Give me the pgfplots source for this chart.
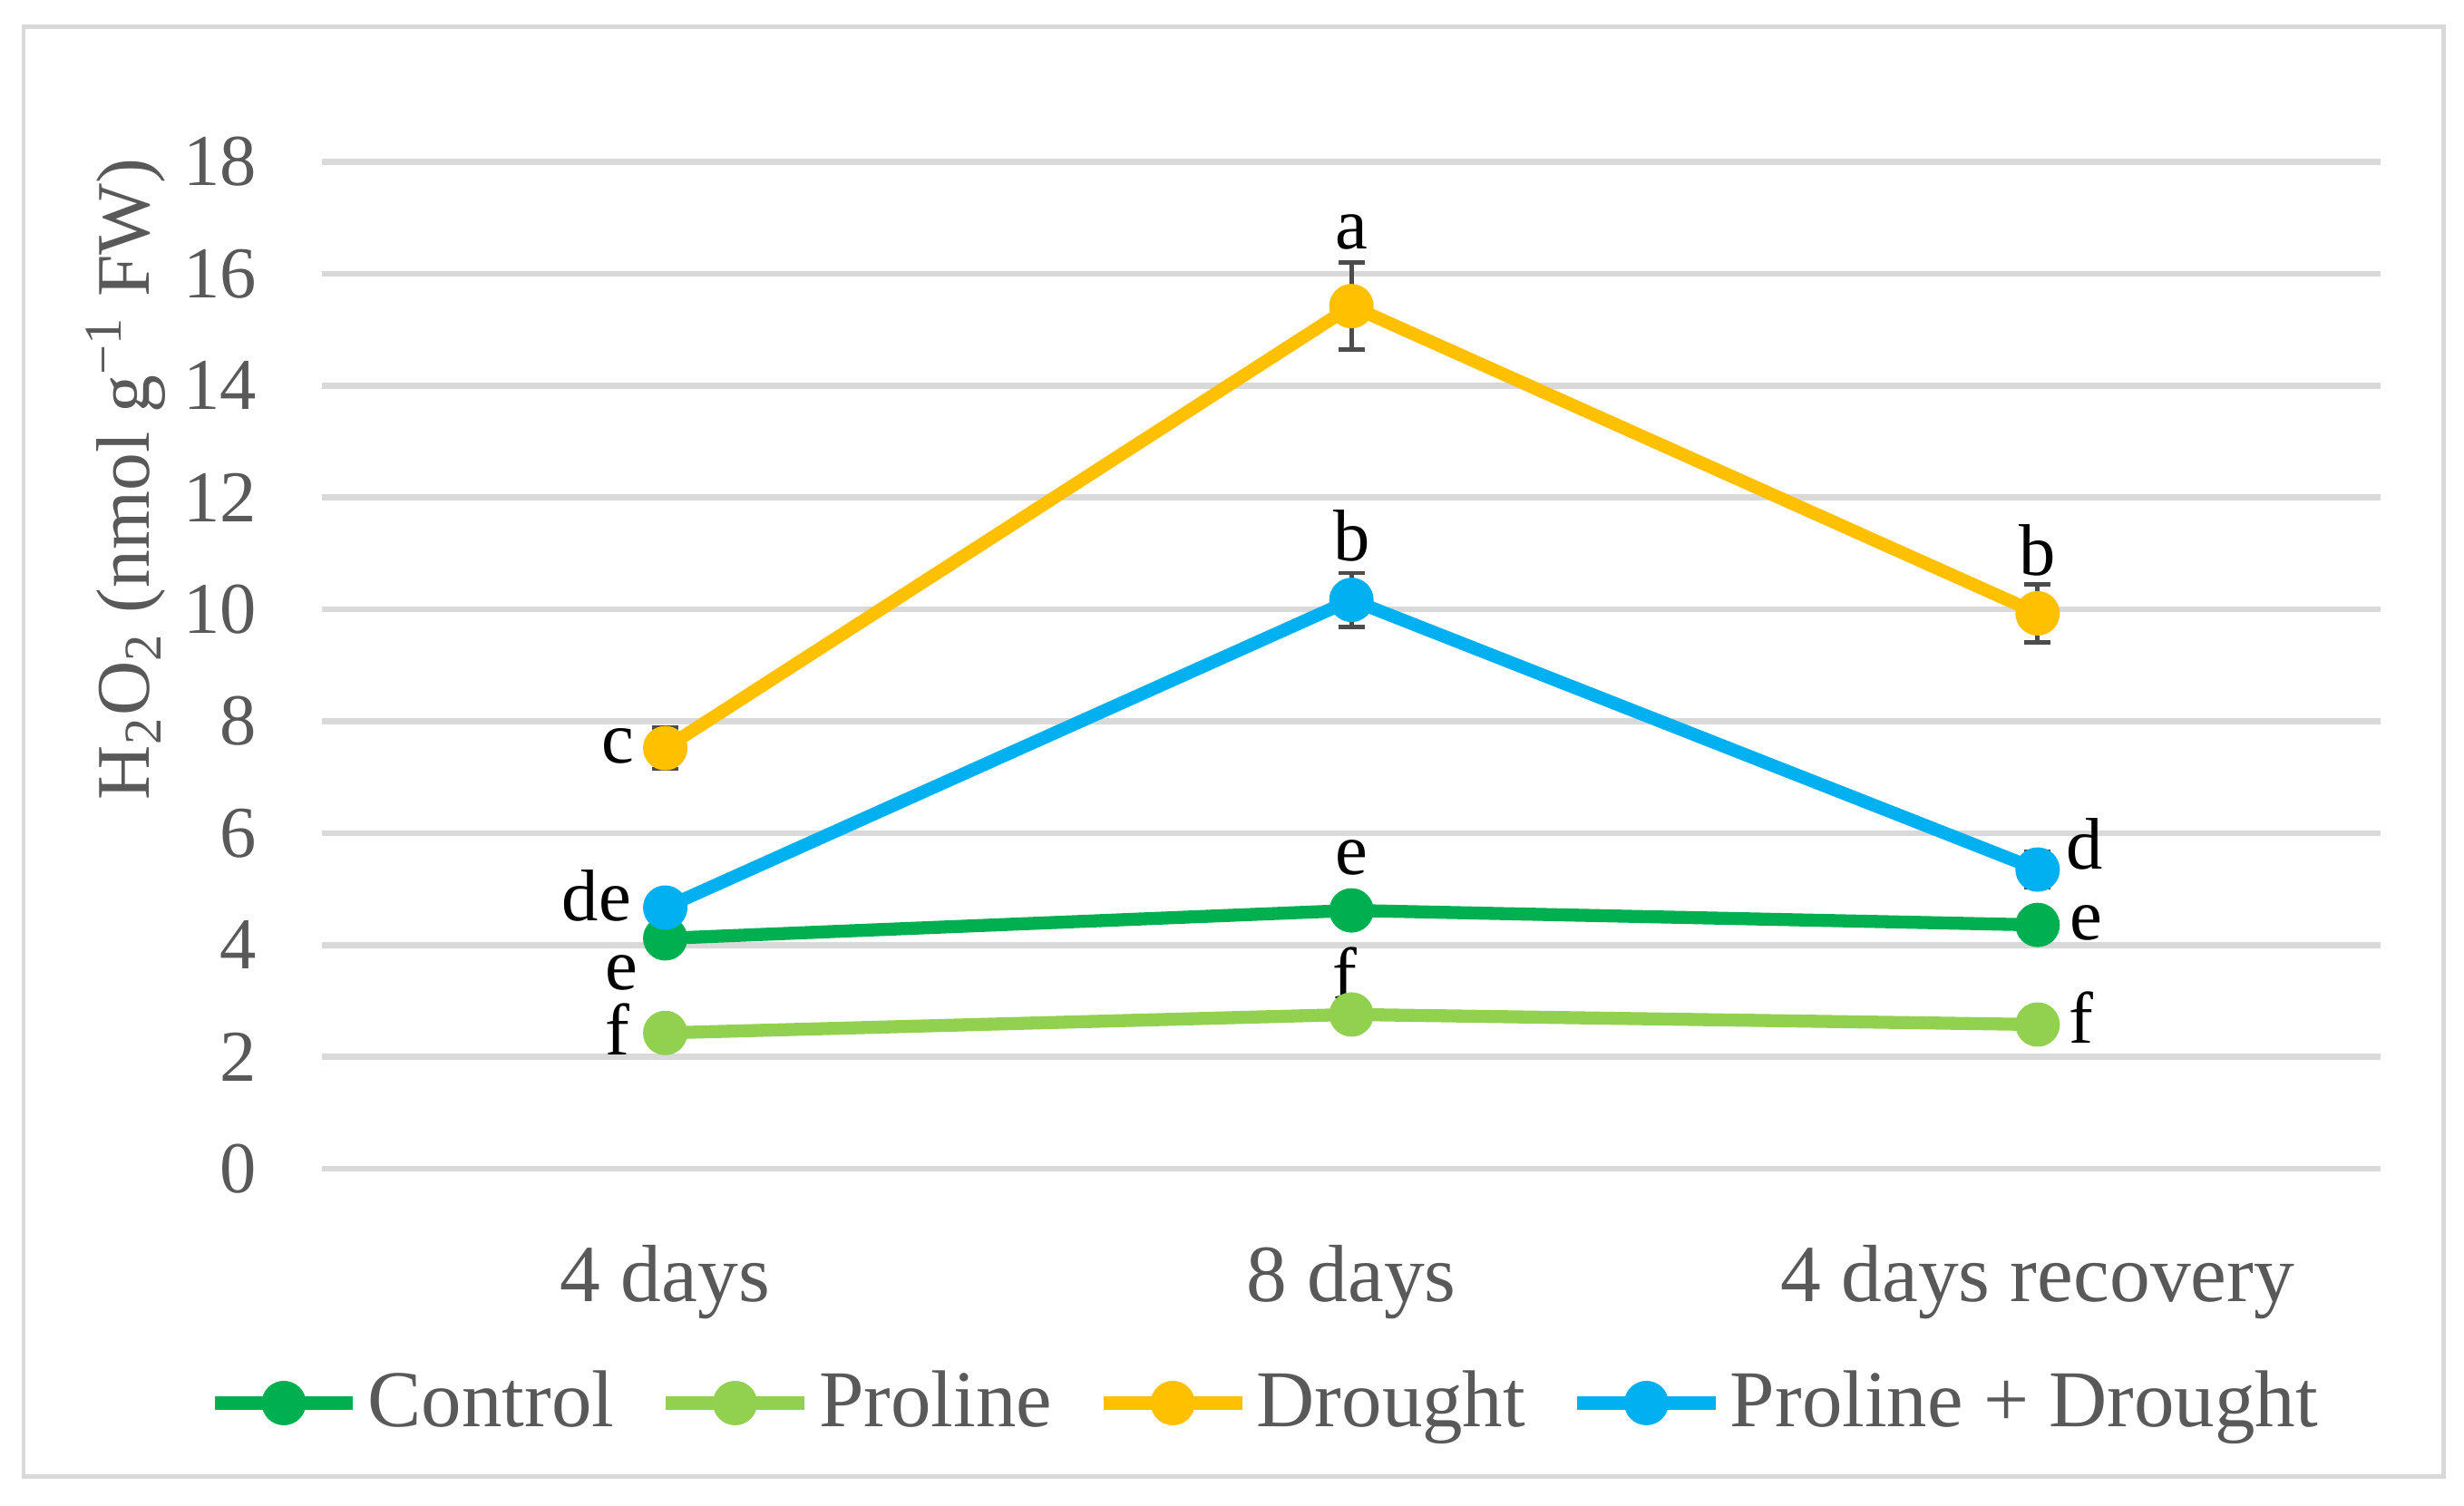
\documentclass[border=0pt]{standalone}
\usepackage{fontspec}
\setmainfont{Liberation Serif}
\usepackage{pgfplots}
\pgfplotsset{compat=1.18}
\usetikzlibrary{calc}

\definecolor{ctrl}{HTML}{00B050}
\definecolor{prol}{HTML}{92D050}
\definecolor{drou}{HTML}{FFC000}
\definecolor{pd}{HTML}{00B0F0}
\definecolor{gridc}{HTML}{D9D9D9}
\definecolor{txtc}{HTML}{595959}

\begin{document}
\begin{tikzpicture}
\begin{axis}[
  name=ax,
  scale only axis,
  width=13.367cm, height=6.541cm,
  xmin=-0.5, xmax=2.5,
  ymin=0, ymax=18,
  xtick={0,1,2},
  xticklabels={4 days, 8 days, 4 days recovery},
  ytick={0,2,...,18},
  axis line style={draw=none},
  major tick length=0pt,
  ymajorgrids,
  grid style={gridc, line width=1.1pt},
  /pgf/number format/assume math mode=true,
  yticklabel style={font=\fontsize{13.5}{15}\selectfont, text=txtc, xshift=-0.3cm},
  xticklabel style={font=\fontsize{15}{17}\selectfont, text=txtc, yshift=-0.37cm},
  ylabel={H\textsubscript{2}O\textsubscript{2} (nmol g\textsuperscript{−1} FW)},
  ylabel style={font=\fontsize{14}{16}\selectfont, text=txtc, at={(rel axis cs:-0.0955,0.685)}, anchor=center},
  every axis plot/.append style={line width=2.4pt, mark=*, mark size=2.9pt},
  error bars/error bar style={line width=0.8pt, color=black!70},
  error bars/error mark options={rotate=90, mark size=0.085cm, line width=0.8pt, color=black!70},
  legend columns=4,
  legend style={at={(0.459,-0.2325)}, anchor=center, draw=none, fill=none,
    font=\fontsize{14.9}{17}\selectfont, text=txtc,
    /tikz/every even column/.append style={column sep=0.24cm},
    nodes={inner sep=1.5pt}},
  legend image code/.code={%
    \draw[#1, mark repeat=2, mark phase=2] plot coordinates {(0cm,0cm) (0.45cm,0cm) (0.9cm,0cm)};},
]
\addplot[ctrl, mark options={fill=ctrl, draw=ctrl}] coordinates {(0,4.12) (1,4.62) (2,4.36)};
\addlegendentry{Control}
\addplot[prol, mark options={fill=prol, draw=prol}] coordinates {(0,2.43) (1,2.76) (2,2.58)};
\addlegendentry{Proline}
\addplot[drou, mark options={fill=drou, draw=drou},
  error bars/.cd, y dir=both, y explicit] coordinates {
  (0,7.52) +- (0,0.37)
  (1,15.42) +- (0,0.78)
  (2,9.93) +- (0,0.52)};
\addlegendentry{Drought}
\addplot[pd, mark options={fill=pd, draw=pd},
  error bars/.cd, y dir=both, y explicit] coordinates {
  (0,4.67) +- (0,0.2)
  (1,10.17) +- (0,0.48)
  (2,5.35) +- (0,0.32)};
\addlegendentry{Proline + Drought}

% significance letters
\begin{scope}[every node/.style={font=\fontsize{13.5}{15}\selectfont, text=black, inner sep=0pt}]
\node at (axis cs:-0.069,7.56) {c};
\node at (axis cs:1,16.74) {a};
\node at (axis cs:2,11.05) {b};
\node at (axis cs:1,11.32) {b};
\node at (axis cs:-0.1,4.88) {de};
\node at (axis cs:2.069,5.8) {d};
\node at (axis cs:-0.064,3.5) {e};
\node at (axis cs:1,5.57) {e};
\node at (axis cs:2.071,4.4) {e};
\node at (axis cs:-0.069,2.5) {f};
\node at (axis cs:0.99,3.5) {f};
\node at (axis cs:2.064,2.71) {f};
\end{scope}
\end{axis}
\draw[gridc, line width=0.8pt] ($(ax.south west)+(-1.939cm,-2.0cm)$) rectangle ($(ax.north east)+(0.408cm,0.878cm)$);
\useasboundingbox ($(ax.south west)+(-2.092cm,-2.184cm)$) rectangle ($(ax.north east)+(0.541cm,1.051cm)$);
\end{tikzpicture}
\end{document}
